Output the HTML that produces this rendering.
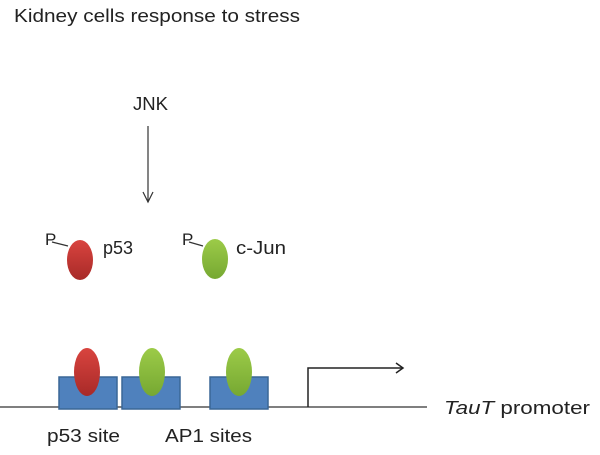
<!DOCTYPE html>
<html><head><meta charset="utf-8"><style>
html,body{margin:0;padding:0;background:#fff;}
svg{display:block;font-family:"Liberation Sans",sans-serif;}
</style></head><body>
<svg width="600" height="455" viewBox="0 0 600 455">
<defs>
<linearGradient id="red" x1="0" y1="0" x2="0" y2="1"><stop offset="0" stop-color="#d9443f"/><stop offset="1" stop-color="#a82a28"/></linearGradient>
<linearGradient id="grn" x1="0" y1="0" x2="0" y2="1"><stop offset="0" stop-color="#9ccb48"/><stop offset="1" stop-color="#76a832"/></linearGradient>
</defs>
<text x="14" y="22" font-size="18" fill="#222" textLength="286" lengthAdjust="spacingAndGlyphs">Kidney cells response to stress</text>
<text x="133" y="110" font-size="18" fill="#222" textLength="35" lengthAdjust="spacingAndGlyphs">JNK</text>
<g stroke="#333" stroke-width="1.2" fill="none">
<line x1="148" y1="126" x2="148" y2="202"/><polyline points="143,192 148,202 153,192"/>
</g>
<g>
<text x="45" y="245" font-size="17" fill="#222">P</text>
<line x1="52" y1="242" x2="68" y2="246" stroke="#333" stroke-width="1.2"/>
<ellipse cx="80" cy="260" rx="13" ry="20" fill="url(#red)"/>
<text x="103" y="254" font-size="18" fill="#222">p53</text>
</g>
<g>
<text x="182" y="245" font-size="17" fill="#222">P</text>
<line x1="189" y1="242" x2="203" y2="246" stroke="#333" stroke-width="1.2"/>
<ellipse cx="215" cy="259" rx="13" ry="20" fill="url(#grn)"/>
<text x="236" y="254" font-size="18" fill="#222" textLength="50" lengthAdjust="spacingAndGlyphs">c-Jun</text>
</g>
<line x1="0" y1="407" x2="427" y2="407" stroke="#333" stroke-width="1.3"/>
<rect x="59" y="377" width="58" height="32" fill="#4f81bd" stroke="#3a6796" stroke-width="1.5"/>
<rect x="122" y="377" width="58" height="32" fill="#4f81bd" stroke="#3a6796" stroke-width="1.5"/>
<rect x="210" y="377" width="58" height="32" fill="#4f81bd" stroke="#3a6796" stroke-width="1.5"/>
<ellipse cx="87" cy="372" rx="13" ry="24" fill="url(#red)"/>
<ellipse cx="152" cy="372" rx="13" ry="24" fill="url(#grn)"/>
<ellipse cx="239" cy="372" rx="13" ry="24" fill="url(#grn)"/>
<g stroke="#222" stroke-width="1.5" fill="none">
<polyline points="308,407 308,368 403,368"/><polyline points="396,363 403,368 396,373"/>
</g>
<text x="444" y="414" font-size="18" fill="#222" textLength="146" lengthAdjust="spacingAndGlyphs"><tspan font-style="italic">TauT</tspan> promoter</text>
<text x="47" y="442" font-size="18" fill="#222" textLength="73" lengthAdjust="spacingAndGlyphs">p53 site</text>
<text x="165" y="442" font-size="18" fill="#222" textLength="87" lengthAdjust="spacingAndGlyphs">AP1 sites</text>
</svg>
</body></html>
